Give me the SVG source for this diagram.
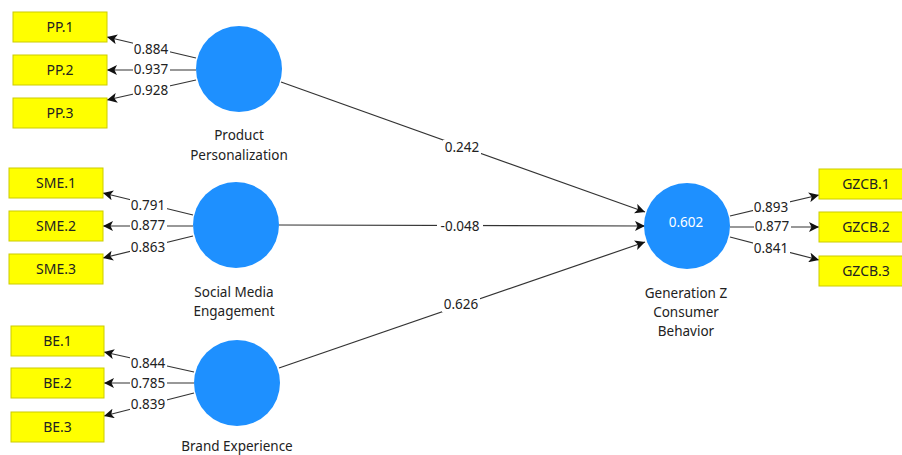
<svg xmlns="http://www.w3.org/2000/svg" width="902" height="455" viewBox="0 0 902 455">
<defs>
<marker id="ah" markerUnits="userSpaceOnUse" markerWidth="11" markerHeight="10" refX="10" refY="5" orient="auto">
<path d="M0,0 L10,5 L0,10 L2.5,5 z" fill="#111"/>
</marker>
<style>
.ln{stroke:#333;stroke-width:1.2;fill:none;marker-end:url(#ah)}
.box{fill:#ffff00;stroke:#cccc00;stroke-width:1}
.lv{fill:#1e90ff}
.t{font-family:"Noto Sans","Open Sans","DejaVu Sans",sans-serif;font-size:13.5px;fill:#222;text-anchor:middle}
.bt{font-size:14px}
.bg{fill:#fff}
</style>
</defs>
<rect width="902" height="455" fill="#fff"/>
<g id="connectors">
<line class="ln" x1="196" y1="58" x2="107" y2="37"/>
<line class="ln" x1="196" y1="70" x2="107" y2="70"/>
<line class="ln" x1="196" y1="80" x2="107" y2="100"/>
<line class="ln" x1="193" y1="215" x2="103" y2="193"/>
<line class="ln" x1="193" y1="226" x2="103" y2="226"/>
<line class="ln" x1="193" y1="236" x2="103" y2="258"/>
<line class="ln" x1="194" y1="372" x2="104" y2="352"/>
<line class="ln" x1="194" y1="383" x2="104" y2="383"/>
<line class="ln" x1="194" y1="393" x2="104" y2="416"/>
<line class="ln" x1="730" y1="216" x2="819" y2="195"/>
<line class="ln" x1="730" y1="227" x2="819" y2="227"/>
<line class="ln" x1="730" y1="237" x2="819" y2="260"/>
<line class="ln" x1="281" y1="82" x2="645" y2="212"/>
<line class="ln" x1="279" y1="225" x2="645" y2="226"/>
<line class="ln" x1="279" y1="368" x2="645" y2="242"/>
<g id="weights">
<rect class="bg" x="133" y="42" width="37" height="15"/><text class="t" x="151" y="54">0.884</text>
<rect class="bg" x="133" y="62" width="37" height="15"/><text class="t" x="151" y="74">0.937</text>
<rect class="bg" x="133" y="83" width="37" height="15"/><text class="t" x="151" y="95">0.928</text>
<rect class="bg" x="130" y="198" width="37" height="15"/><text class="t" x="148" y="210">0.791</text>
<rect class="bg" x="130" y="218" width="37" height="15"/><text class="t" x="148" y="230">0.877</text>
<rect class="bg" x="130" y="240" width="37" height="15"/><text class="t" x="148" y="252">0.863</text>
<rect class="bg" x="130" y="356" width="37" height="15"/><text class="t" x="148" y="368">0.844</text>
<rect class="bg" x="130" y="376" width="37" height="15"/><text class="t" x="148" y="388">0.785</text>
<rect class="bg" x="130" y="397" width="37" height="15"/><text class="t" x="148" y="409">0.839</text>
<rect class="bg" x="753" y="200" width="37" height="15"/><text class="t" x="771" y="212">0.893</text>
<rect class="bg" x="754" y="219" width="37" height="15"/><text class="t" x="772" y="231">0.877</text>
<rect class="bg" x="753" y="241" width="37" height="15"/><text class="t" x="771" y="253">0.841</text>
<rect class="bg" x="443" y="140" width="38" height="15"/><text class="t" x="462" y="152">0.242</text>
<rect class="bg" x="437" y="219" width="46" height="15"/><text class="t" x="460" y="231">-0.048</text>
<rect class="bg" x="442" y="297" width="38" height="15"/><text class="t" x="461" y="309">0.626</text>
</g>
</g>
<g id="PP1"><rect class="box" x="13" y="12" width="94" height="30"/><text class="t bt" x="60" y="32">PP.1</text></g>
<g id="PP2"><rect class="box" x="13" y="55" width="94" height="30"/><text class="t bt" x="60" y="75">PP.2</text></g>
<g id="PP3"><rect class="box" x="13" y="98" width="94" height="30"/><text class="t bt" x="60" y="118">PP.3</text></g>
<g id="SME1"><rect class="box" x="9" y="168" width="94" height="30"/><text class="t bt" x="56" y="188">SME.1</text></g>
<g id="SME2"><rect class="box" x="9" y="211" width="94" height="30"/><text class="t bt" x="56" y="231">SME.2</text></g>
<g id="SME3"><rect class="box" x="9" y="254" width="94" height="30"/><text class="t bt" x="56" y="274">SME.3</text></g>
<g id="BE1"><rect class="box" x="11" y="326" width="93" height="30"/><text class="t bt" x="57.5" y="346">BE.1</text></g>
<g id="BE2"><rect class="box" x="11" y="368" width="93" height="30"/><text class="t bt" x="57.5" y="388">BE.2</text></g>
<g id="BE3"><rect class="box" x="11" y="412" width="93" height="30"/><text class="t bt" x="57.5" y="432">BE.3</text></g>
<g id="GZCB1"><rect class="box" x="819" y="169" width="94" height="30"/><text class="t bt" x="866" y="189">GZCB.1</text></g>
<g id="GZCB2"><rect class="box" x="819" y="212" width="94" height="30"/><text class="t bt" x="866" y="232">GZCB.2</text></g>
<g id="GZCB3"><rect class="box" x="819" y="256" width="94" height="30"/><text class="t bt" x="866" y="276">GZCB.3</text></g>
<g id="PP"><circle class="lv" cx="239" cy="69" r="43"/><text class="t" x="239" y="140">Product</text><text class="t" x="239" y="160">Personalization</text></g>
<g id="SME"><circle class="lv" cx="236" cy="225" r="43"/><text class="t" x="234" y="297">Social Media</text><text class="t" x="234" y="316">Engagement</text></g>
<g id="BE"><circle class="lv" cx="237" cy="383" r="43"/><text class="t" x="237" y="451">Brand Experience</text></g>
<g id="GZCB"><circle class="lv" cx="687" cy="226" r="43"/><text class="t" x="686" y="227" style="fill:#fff">0.602</text><text class="t" x="686" y="298">Generation Z</text><text class="t" x="686" y="317">Consumer</text><text class="t" x="686" y="336">Behavior</text></g>
</svg>
